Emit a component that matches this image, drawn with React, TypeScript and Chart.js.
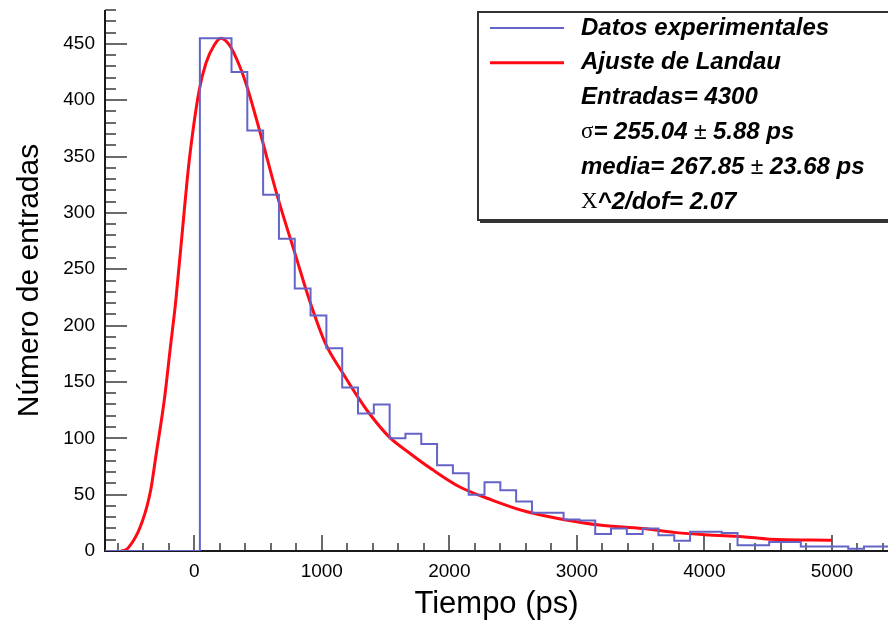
import React, { useEffect, useRef } from 'react';
import { Chart, registerables } from 'chart.js';

Chart.register(...registerables);

// ---- data ----
const binLow = -700;
const binHigh = 5500;
const binCounts = [
  0, 0, 0, 0, 0, 0, 455, 455, 425, 373,
  316, 277, 233, 209, 180, 145, 122, 130, 100, 104,
  95, 76, 69, 50, 61, 54, 44, 34, 34, 28,
  27, 15, 20, 15, 20, 14, 9, 17, 17, 16,
  5, 5, 8, 8, 4, 4, 4, 2, 4, 4,
];

const fitX = [-575, -536, -484, -440, -405, -370, -340, -300, -235, -190, -144, -71, -39, 39, 92, 157, 209, 275, 353, 405, 510, 654, 798, 902, 1033, 1164, 1281, 1373, 1530, 1687, 1870, 2079, 2340, 2602, 2916, 3177, 3517, 3779, 4040, 4302, 4511, 5000];
const fitY = [0, 1, 8, 17, 27, 40, 55, 85, 134, 178, 223, 311, 347, 409, 433, 449, 455, 449, 431, 415, 374, 314, 261, 223, 183, 158, 137, 122, 101, 87, 72, 57, 45, 35, 27.5, 23, 20, 16.3, 14.2, 12.7, 10.5, 9.5];

const xTickValues = [0, 1000, 2000, 3000, 4000, 5000];
const yTickValues = [0, 50, 100, 150, 200, 250, 300, 350, 400, 450];
const xMinorStep = 200;
const yMinorStep = 10;

const xMin = -700;
const xMax = 5440;
const yMin = 0;
const yMax = 480;

const histLabel = 'Datos experimentales';
const fitLabel = 'Ajuste de Landau';
const statEntries = 'Entradas= 4300';
const statSigma = ['σ', '= 255.04', ' ± ', '5.88 ps'];
const statMean = ['media= 267.85', ' ± ', '23.68 ps'];
const statChi = ['X', '^2/dof= 2.07'];

const FONT = '"Liberation Sans", Arial, Helvetica, sans-serif';
const SERIF = '"Liberation Serif", "DejaVu Serif", serif';
const HIST_COLOR = '#6464c8';
const FIT_COLOR = '#ff0a14';

export default function App() {
  const ref = useRef<HTMLCanvasElement | null>(null);

  useEffect(() => {
    const canvas = ref.current;
    if (!canvas) return;
    const nb = binCounts.length;
    const w = (binHigh - binLow) / nb;
    const histPoints = binCounts.map((c, i) => ({ x: binLow + i * w, y: c }));
    histPoints.push({ x: binHigh, y: binCounts[nb - 1] });
    const fitPoints = fitX.map((x, i) => ({ x, y: fitY[i] }));

    const axesPlugin = {
      id: 'rootAxes',
      beforeDatasetsDraw(chart: any) {
        const { ctx, chartArea } = chart;
        const xs = chart.scales.x;
        const ys = chart.scales.y;
        ctx.save();
        ctx.strokeStyle = '#6a6a6a';
        ctx.lineWidth = 2;
        ctx.beginPath();
        for (let v = Math.ceil(yMin / yMinorStep) * yMinorStep; v <= yMax; v += yMinorStep) {
          const py = Math.round(ys.getPixelForValue(v));
          const major = v % 50 === 0;
          ctx.moveTo(chartArea.left, py);
          ctx.lineTo(chartArea.left + (major ? 22 : 11), py);
        }
        for (let v = Math.ceil(xMin / xMinorStep) * xMinorStep; v <= xMax; v += xMinorStep) {
          const px = Math.round(xs.getPixelForValue(v));
          const major = v % 1000 === 0;
          ctx.moveTo(px, chartArea.bottom);
          ctx.lineTo(px, chartArea.bottom - (major ? 16 : 8));
        }
        ctx.stroke();
        ctx.strokeStyle = '#1a1a1a';
        ctx.lineWidth = 2;
        ctx.beginPath();
        ctx.moveTo(chartArea.left, chartArea.top);
        ctx.lineTo(chartArea.left, chartArea.bottom);
        ctx.lineTo(chartArea.right, chartArea.bottom);
        ctx.stroke();
        ctx.restore();
      },
      afterDraw(chart: any) {
        const { ctx } = chart;
        ctx.save();
        const bx = 478, by = 12, bw = 430, bh = 208;
        ctx.fillStyle = '#ffffff';
        ctx.fillRect(bx, by, bw, bh);
        ctx.strokeStyle = '#333333';
        ctx.lineWidth = 2;
        ctx.strokeRect(bx, by, bw, bh);
        ctx.beginPath();
        ctx.moveTo(bx + 2, by + bh + 2);
        ctx.lineTo(bx + bw, by + bh + 2);
        ctx.stroke();

        const rowY = (i: number) => 28 + i * 34.8;
        ctx.lineWidth = 2;
        ctx.strokeStyle = HIST_COLOR;
        ctx.beginPath();
        ctx.moveTo(490, rowY(0));
        ctx.lineTo(564, rowY(0));
        ctx.stroke();
        ctx.lineWidth = 3;
        ctx.strokeStyle = FIT_COLOR;
        ctx.beginPath();
        ctx.moveTo(490, rowY(1));
        ctx.lineTo(564, rowY(1));
        ctx.stroke();

        const bold = `italic bold 24px ${FONT}`;
        const reg = `23px ${SERIF}`;
        const pm = `23px ${FONT}`;
        ctx.fillStyle = '#000';
        ctx.textBaseline = 'middle';
        ctx.textAlign = 'left';
        const drawSegs = (segs: [string, string][], y: number) => {
          let x = 581;
          for (const [t, f] of segs) {
            ctx.font = f;
            ctx.fillText(t, x, y);
            x += ctx.measureText(t).width;
          }
        };
        drawSegs([[histLabel, bold]], rowY(0));
        drawSegs([[fitLabel, bold]], rowY(1));
        drawSegs([[statEntries, bold]], rowY(2));
        drawSegs([[statSigma[0], reg], [statSigma[1], bold], [statSigma[2], pm], [statSigma[3], bold]], rowY(3));
        drawSegs([[statMean[0], bold], [statMean[1], pm], [statMean[2], bold]], rowY(4));
        drawSegs([[statChi[0], reg], [statChi[1], bold]], rowY(5));
        ctx.restore();
      },
    };

    const chart = new Chart(canvas, {
      type: 'line',
      data: {
        datasets: [
          {
            label: histLabel,
            data: histPoints,
            borderColor: HIST_COLOR,
            borderWidth: 2,
            stepped: true,
            pointRadius: 0,
            fill: false,
          } as any,
          {
            label: fitLabel,
            data: fitPoints,
            borderColor: FIT_COLOR,
            borderWidth: 3,
            cubicInterpolationMode: 'monotone',
            pointRadius: 0,
            fill: false,
          } as any,
        ],
      },
      options: {
        animation: false,
        responsive: false,
        layout: { padding: { top: 10, left: 0, right: 0, bottom: 0 } },
        plugins: { legend: { display: false }, tooltip: { enabled: false } },
        scales: {
          x: {
            type: 'linear',
            min: xMin,
            max: xMax,
            afterBuildTicks: (s: any) => {
              s.ticks = xTickValues.map((v) => ({ value: v }));
            },
            afterFit: (s: any) => {
              s.height = 69;
              s.paddingLeft = 0;
              s.paddingRight = 0;
            },
            grid: { display: false, drawTicks: false },
            border: { display: false },
            ticks: {
              padding: 9,
              color: '#000',
              font: { family: FONT, size: 19 },
              maxRotation: 0,
              autoSkip: false,
              callback: (v: any) => String(v),
            },
            title: {
              display: true,
              text: 'Tiempo (ps)',
              color: '#000',
              font: { family: FONT, size: 31, lineHeight: 1 },
              padding: { top: 0, bottom: 0 },
            },
          },
          y: {
            type: 'linear',
            min: yMin,
            max: yMax,
            afterBuildTicks: (s: any) => {
              s.ticks = yTickValues.map((v) => ({ value: v }));
            },
            afterFit: (s: any) => {
              s.width = 105;
              s.paddingTop = 0;
              s.paddingBottom = 0;
            },
            grid: { display: false, drawTicks: false },
            border: { display: false },
            ticks: {
              padding: 10,
              color: '#000',
              font: { family: FONT, size: 19 },
              autoSkip: false,
              callback: (v: any) => String(v),
            },
            title: {
              display: true,
              text: 'Número de entradas',
              color: '#000',
              font: { family: FONT, size: 30, lineHeight: 1 },
              padding: { top: 15, bottom: 0 },
            },
          },
        },
      } as any,
      plugins: [axesPlugin],
    });
    return () => chart.destroy();
  }, []);

  return (
    <div style={{ position: 'fixed', left: 0, top: 0, width: 888, height: 620, background: '#fff' }}>
      <canvas ref={ref} width={888} height={620} style={{ display: 'block', width: 888, height: 620 }} />
    </div>
  );
}
